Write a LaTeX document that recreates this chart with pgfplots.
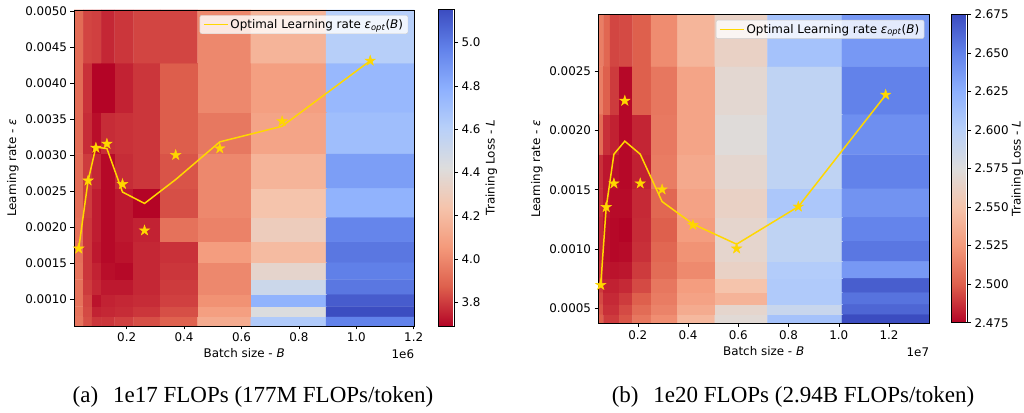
\documentclass[border=0pt]{standalone}
\usepackage{pgfplots}
\pgfplotsset{compat=1.18}
\usepackage{fontspec}
\setmainfont{DejaVu Sans}
\newfontfamily\capfont{Liberation Serif}
\definecolor{gold}{RGB}{255,215,0}
\definecolor{lgray}{RGB}{204,204,204}
\pgfplotsset{colormap={crw}{rgb255=(180,4,38) rgb255=(222,96,77) rgb255=(244,154,123) rgb255=(245,196,172) rgb255=(221,221,221) rgb255=(184,208,249) rgb255=(141,176,254) rgb255=(98,130,234) rgb255=(59,76,192)}}
\pgfdeclareplotmark{fstar}{%
\pgfpathmoveto{\pgfpointpolar{90}{\pgfplotmarksize}}%
\pgfpathlineto{\pgfpointpolar{126}{0.382\pgfplotmarksize}}%
\pgfpathlineto{\pgfpointpolar{162}{\pgfplotmarksize}}%
\pgfpathlineto{\pgfpointpolar{198}{0.382\pgfplotmarksize}}%
\pgfpathlineto{\pgfpointpolar{234}{\pgfplotmarksize}}%
\pgfpathlineto{\pgfpointpolar{270}{0.382\pgfplotmarksize}}%
\pgfpathlineto{\pgfpointpolar{306}{\pgfplotmarksize}}%
\pgfpathlineto{\pgfpointpolar{342}{0.382\pgfplotmarksize}}%
\pgfpathlineto{\pgfpointpolar{18}{\pgfplotmarksize}}%
\pgfpathlineto{\pgfpointpolar{54}{0.382\pgfplotmarksize}}%
\pgfpathclose
\pgfusepathqfillstroke}
\newcommand{\tfont}{\fontsize{11.9bp}{14bp}\selectfont}
\pgfplotsset{myax/.style={
  scale only axis, axis on top, enlargelimits=false,
  colormap name=crw,
  tick align=outside, xtick pos=left, ytick pos=left,
  major tick length=3.5bp,
  tick style={black, line width=0.6bp},
  axis line style={black, line width=0.6bp},
  tick label style={font=\tfont},
  label style={font=\tfont},
  /pgf/number format/assume math mode=true,
  scaled x ticks=false, scaled y ticks=false,
  xticklabel={\pgfmathprintnumber[fixed,fixed zerofill,precision=1]{\tick}},
  yticklabel={\pgfmathprintnumber[fixed,fixed zerofill,precision=4]{\tick}},
  xtick={0.2,0.4,0.6,0.8,1.0,1.2},
  xlabel={Batch size - \textit{B}},
  ylabel={Learning rate - \textit{ε}},
  legend cell align=left,
  legend style={anchor=north east, draw=lgray, fill=white, fill opacity=0.8, text opacity=1, rounded corners=2bp, inner xsep=3bp, inner ysep=2bp, font=\tfont},
  colorbar,
}}
\pgfplotsset{mycb/.style={
  at={(parent axis.north east)}, anchor=north west,
  scale only axis, width=16bp,
  tick align=outside, ytick pos=right, yticklabel pos=right,
  major tick length=3.5bp,
  tick style={black, line width=0.6bp},
  axis line style={black, line width=0.6bp},
  tick label style={font=\tfont},
  label style={font=\tfont},
  /pgf/number format/assume math mode=true,
  ylabel={Training Loss - \textit{L}},
}}
\begin{document}
\begin{tikzpicture}
\path[use as bounding box] (0bp,0bp) rectangle (1024bp,413bp);
% ---------------- left ----------------
\begin{axis}[myax,
  at={(74bp,87bp)}, anchor=south west, width=340.3bp, height=316bp,
  xmin=0.016384, xmax=1.2021365, ymin=0.0006252, ymax=0.00501495,
  ytick={0.001,0.0015,0.002,0.0025,0.003,0.0035,0.004,0.0045,0.005},
  point meta min=3.69, point meta max=5.154,
  legend style={at={(0.982,0.984)}},
  colorbar style={mycb, xshift=15.7bp, yshift=0.7bp, height=316.7bp,
    ytick={3.8,4.0,4.2,4.4,4.6,4.8,5.0},
    yticklabel={\pgfmathprintnumber[fixed,fixed zerofill,precision=1]{\tick}},
    ylabel style={at={(axis description cs:3.31,0.5)}, anchor=center, rotate=0}},
]
\addplot[matrix plot*, mesh/cols=10, mesh/rows=12, point meta=explicit, forget plot] table[meta=c] {
x y c
0.032768 0.00069053 3.94
0.065536 0.00069053 3.84
0.092682 0.00069053 3.79
0.131072 0.00069053 3.79
0.185364 0.00069053 3.81
0.262144 0.00069053 3.84
0.370728 0.00069053 3.88
0.524288 0.00069053 4.13
0.741455 0.00069053 4.64
1.048576 0.00069053 4.97
0.032768 0.00082118 3.93
0.065536 0.00082118 3.83
0.092682 0.00082118 3.75
0.131072 0.00082118 3.76
0.185364 0.00082118 3.77
0.262144 0.00082118 3.79
0.370728 0.00082118 3.84
0.524288 0.00082118 4.08
0.741455 0.00082118 4.43
1.048576 0.00082118 5.15
0.032768 0.00097656 3.93
0.065536 0.00097656 3.82
0.092682 0.00097656 3.72
0.131072 0.00097656 3.75
0.185364 0.00097656 3.76
0.262144 0.00097656 3.77
0.370728 0.00097656 3.81
0.524288 0.00097656 4.03
0.741455 0.00097656 4.77
1.048576 0.00097656 5.10
0.032768 0.0011613 3.93
0.065536 0.0011613 3.80
0.092682 0.0011613 3.76
0.131072 0.0011613 3.73
0.185364 0.0011613 3.73
0.262144 0.0011613 3.76
0.370728 0.0011613 3.80
0.524288 0.0011613 4.00
0.741455 0.0011613 4.51
1.048576 0.0011613 5.01
0.032768 0.0013811 3.93
0.065536 0.0013811 3.79
0.092682 0.0013811 3.75
0.131072 0.0013811 3.71
0.185364 0.0013811 3.70
0.262144 0.0013811 3.76
0.370728 0.0013811 3.79
0.524288 0.0013811 4.00
0.741455 0.0013811 4.36
1.048576 0.0013811 4.98
0.032768 0.0016424 3.92
0.065536 0.0016424 3.79
0.092682 0.0016424 3.73
0.131072 0.0016424 3.70
0.185364 0.0016424 3.72
0.262144 0.0016424 3.76
0.370728 0.0016424 3.78
0.524288 0.0016424 4.07
0.741455 0.0016424 4.20
1.048576 0.0016424 5.01
0.032768 0.0019531 3.92
0.065536 0.0019531 3.79
0.092682 0.0019531 3.74
0.131072 0.0019531 3.70
0.185364 0.0019531 3.73
0.262144 0.0019531 3.75
0.370728 0.0019531 3.93
0.524288 0.0019531 3.98
0.741455 0.0019531 4.30
1.048576 0.0019531 4.96
0.032768 0.0023227 3.91
0.065536 0.0023227 3.80
0.092682 0.0023227 3.74
0.131072 0.0023227 3.70
0.185364 0.0023227 3.73
0.262144 0.0023227 3.69
0.370728 0.0023227 3.84
0.524288 0.0023227 4.00
0.741455 0.0023227 4.24
1.048576 0.0023227 4.77
0.032768 0.0027621 3.91
0.065536 0.0027621 3.80
0.092682 0.0027621 3.76
0.131072 0.0027621 3.70
0.185364 0.0027621 3.77
0.262144 0.0027621 3.79
0.370728 0.0027621 3.85
0.524288 0.0027621 4.00
0.741455 0.0027621 4.17
1.048576 0.0027621 4.86
0.032768 0.0032847 3.91
0.065536 0.0032847 3.77
0.092682 0.0032847 3.71
0.131072 0.0032847 3.77
0.185364 0.0032847 3.78
0.262144 0.0032847 3.79
0.370728 0.0032847 3.87
0.524288 0.0032847 3.95
0.741455 0.0032847 4.10
1.048576 0.0032847 4.71
0.032768 0.0039063 3.91
0.065536 0.0039063 3.78
0.092682 0.0039063 3.69
0.131072 0.0039063 3.69
0.185364 0.0039063 3.75
0.262144 0.0039063 3.79
0.370728 0.0039063 3.87
0.524288 0.0039063 4.00
0.741455 0.0039063 4.08
1.048576 0.0039063 4.74
0.032768 0.0046454 3.91
0.065536 0.0046454 3.82
0.092682 0.0046454 3.81
0.131072 0.0046454 3.76
0.185364 0.0046454 3.79
0.262144 0.0046454 3.82
0.370728 0.0046454 3.82
0.524288 0.0046454 4.00
0.741455 0.0046454 4.17
1.048576 0.0046454 4.61
};
\addplot[gold, line width=1.5bp, mark=none,
  legend image code/.code={\draw[gold, line width=1.5bp, opacity=1] (0bp,0bp) -- (24bp,0bp);}] coordinates {
(0.032768,0.0017) (0.065536,0.002645) (0.092682,0.00311) (0.131072,0.00309) (0.185364,0.002486)
(0.262144,0.002328) (0.370728,0.00266) (0.524288,0.003183) (0.741455,0.0034) (1.048576,0.00431)};
\addlegendentry{Optimal Learning rate \textit{ε}\textsubscript{\textit{opt}}(\textit{B})}
\addplot[only marks, mark=fstar, mark size=5.5bp, draw=gold, fill=gold, forget plot] coordinates {
(0.032768,0.0017) (0.065536,0.002645) (0.092682,0.0031) (0.131072,0.003156) (0.185364,0.002596)
(0.262144,0.001952) (0.370728,0.0030) (0.524288,0.003092) (0.741455,0.003469) (1.048576,0.00431)};
\end{axis}
% ---------------- right ----------------
\begin{axis}[myax,
  at={(598bp,89.7bp)}, anchor=south west, width=331.3bp, height=309bp,
  xmin=0.04157045, xmax=1.36006205, ymin=0.00037175, ymax=0.0029818,
  ytick={0.0005,0.001,0.0015,0.002,0.0025},
  point meta min=2.475, point meta max=2.675,
  legend style={at={(0.985,0.982)}},
  colorbar style={mycb, xshift=13.7bp, height=308.4bp,
    ytick={2.475,2.5,2.525,2.55,2.575,2.6,2.625,2.65,2.675},
    yticklabel={\pgfmathprintnumber[fixed,fixed zerofill,precision=3]{\tick}},
    ylabel style={at={(axis description cs:4.12,0.5)}, anchor=center, rotate=0}},
]
\addplot[matrix plot*, mesh/cols=10, mesh/rows=12, point meta=explicit, forget plot] table[meta=c] {
x y c
0.0524288 0.00041059 2.500
0.0741455 0.00041059 2.490
0.1048576 0.00041059 2.490
0.1482910 0.00041059 2.497
0.2097152 0.00041059 2.510
0.2965821 0.00041059 2.520
0.4194304 0.00041059 2.543
0.5931642 0.00041059 2.571
0.8388608 0.00041059 2.611
1.1863283 0.00041059 2.675
0.0524288 0.00048828 2.497
0.0741455 0.00048828 2.487
0.1048576 0.00048828 2.487
0.1482910 0.00048828 2.494
0.2097152 0.00048828 2.505
0.2965821 0.00048828 2.515
0.4194304 0.00048828 2.535
0.5931642 0.00048828 2.567
0.8388608 0.00048828 2.589
1.1863283 0.00048828 2.663
0.0524288 0.00058067 2.494
0.0741455 0.00058067 2.485
0.1048576 0.00058067 2.485
0.1482910 0.00058067 2.490
0.2097152 0.00058067 2.500
0.2965821 0.00058067 2.512
0.4194304 0.00058067 2.530
0.5931642 0.00058067 2.540
0.8388608 0.00058067 2.605
1.1863283 0.00058067 2.657
0.0524288 0.00069053 2.490
0.0741455 0.00069053 2.483
0.1048576 0.00069053 2.483
0.1482910 0.00069053 2.485
0.2097152 0.00069053 2.494
0.2965821 0.00069053 2.510
0.4194304 0.00069053 2.527
0.5931642 0.00069053 2.550
0.8388608 0.00069053 2.605
1.1863283 0.00069053 2.667
0.0524288 0.00082118 2.487
0.0741455 0.00082118 2.480
0.1048576 0.00082118 2.479
0.1482910 0.00082118 2.480
0.2097152 0.00082118 2.490
0.2965821 0.00082118 2.505
0.4194304 0.00082118 2.518
0.5931642 0.00082118 2.563
0.8388608 0.00082118 2.603
1.1863283 0.00082118 2.638
0.0524288 0.00097656 2.485
0.0741455 0.00097656 2.478
0.1048576 0.00097656 2.476
0.1482910 0.00097656 2.477
0.2097152 0.00097656 2.487
0.2965821 0.00097656 2.503
0.4194304 0.00097656 2.522
0.5931642 0.00097656 2.567
0.8388608 0.00097656 2.595
1.1863283 0.00097656 2.655
0.0524288 0.0011613 2.485
0.0741455 0.0011613 2.478
0.1048576 0.0011613 2.476
0.1482910 0.0011613 2.475
0.2097152 0.0011613 2.486
0.2965821 0.0011613 2.500
0.4194304 0.0011613 2.527
0.5931642 0.0011613 2.567
0.8388608 0.0011613 2.595
1.1863283 0.0011613 2.649
0.0524288 0.0013811 2.487
0.0741455 0.0013811 2.480
0.1048576 0.0013811 2.477
0.1482910 0.0013811 2.477
0.2097152 0.0013811 2.485
0.2965821 0.0013811 2.503
0.4194304 0.0013811 2.530
0.5931642 0.0013811 2.563
0.8388608 0.0013811 2.607
1.1863283 0.0013811 2.641
0.0524288 0.0016424 2.487
0.0741455 0.0016424 2.480
0.1048576 0.0016424 2.478
0.1482910 0.0016424 2.476
0.2097152 0.0016424 2.483
0.2965821 0.0016424 2.512
0.4194304 0.0016424 2.534
0.5931642 0.0016424 2.568
0.8388608 0.0016424 2.595
1.1863283 0.0016424 2.650
0.0524288 0.0019531 2.505
0.0741455 0.0019531 2.487
0.1048576 0.0019531 2.483
0.1482910 0.0019531 2.476
0.2097152 0.0019531 2.484
0.2965821 0.0019531 2.511
0.4194304 0.0019531 2.531
0.5931642 0.0019531 2.573
0.8388608 0.0019531 2.595
1.1863283 0.0019531 2.643
0.0524288 0.0023227 2.513
0.0741455 0.0023227 2.500
0.1048576 0.0023227 2.490
0.1482910 0.0023227 2.476
0.2097152 0.0023227 2.500
0.2965821 0.0023227 2.510
0.4194304 0.0023227 2.531
0.5931642 0.0023227 2.569
0.8388608 0.0023227 2.595
1.1863283 0.0023227 2.650
0.0524288 0.0027621 2.513
0.0741455 0.0027621 2.503
0.1048576 0.0027621 2.493
0.1482910 0.0027621 2.494
0.2097152 0.0027621 2.500
0.2965821 0.0027621 2.519
0.4194304 0.0027621 2.541
0.5931642 0.0027621 2.563
0.8388608 0.0027621 2.611
1.1863283 0.0027621 2.638
};
\addplot[gold, line width=1.5bp, mark=none,
  legend image code/.code={\draw[gold, line width=1.5bp, opacity=1] (0bp,0bp) -- (24bp,0bp);}] coordinates {
(0.0524288,0.000695) (0.0741455,0.00135) (0.1048576,0.0018) (0.1482910,0.00191) (0.2097152,0.0018)
(0.2965821,0.0014) (0.4194304,0.00121) (0.5931642,0.00104) (0.8388608,0.001357) (1.1863283,0.0023)};
\addlegendentry{Optimal Learning rate \textit{ε}\textsubscript{\textit{opt}}(\textit{B})}
\addplot[only marks, mark=fstar, mark size=5.5bp, draw=gold, fill=gold, forget plot] coordinates {
(0.0524288,0.000695) (0.0741455,0.001353) (0.1048576,0.001553) (0.1482910,0.002251) (0.2097152,0.001553)
(0.2965821,0.001502) (0.4194304,0.001202) (0.5931642,0.001003) (0.8388608,0.001357) (1.1863283,0.002302)};
\end{axis}
\node[anchor=east, font=\tfont, inner sep=0pt] at (414.3bp,59bp) {1e6};
\node[anchor=east, font=\tfont, inner sep=0pt] at (929.3bp,61bp) {1e7};
\node[font=\capfont\fontsize{23bp}{26bp}\selectfont, inner sep=0pt] at (253bp,16bp) {(a)\hspace{0.4em} 1e17 FLOPs (177M FLOPs/token)};
\node[font=\capfont\fontsize{23bp}{26bp}\selectfont, inner sep=0pt] at (793bp,16bp) {(b)\hspace{0.4em} 1e20 FLOPs (2.94B FLOPs/token)};
\end{tikzpicture}
\end{document}
